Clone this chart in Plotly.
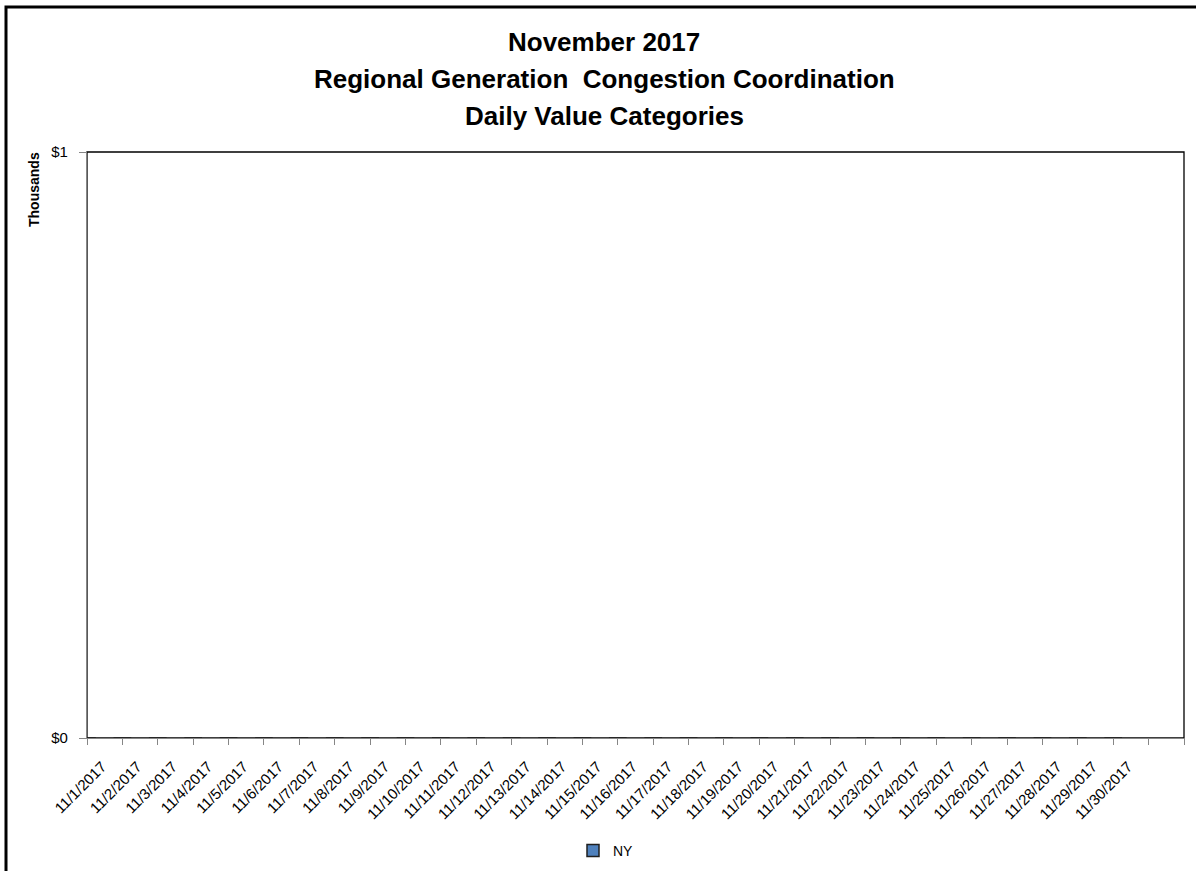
import plotly.graph_objects as go

# data: every day of November 2017, no NY values shown
dates = ["2017-11-%02d" % d for d in range(1, 31)]
date_labels = ["11/%d/2017" % d for d in range(1, 31)]
ny_values = [0] * 30
series_name = "NY"

title_lines = ["November 2017",
               "Regional Generation  Congestion Coordination",
               "Daily Value Categories"]
y_ticks = [0, 1]
y_labels = ["$0", "$1"]

# two extra unlabeled ticks after the last day, like the original
extra_ticks = ["2017-12-01", "2017-12-02"]

W, H = 1196, 871
L, R, T, B = 87, W - 1184, 152, H - 738
pw, ph = W - L - R, H - T - B

font = "Liberation Sans"

fig = go.Figure()
fig.add_trace(go.Bar(
    x=dates,
    y=ny_values,
    name=series_name,
    marker=dict(color="#4F81BD", line=dict(color="#1F1F1F", width=1.5)),
    showlegend=True,
))

for i, line in enumerate(title_lines):
    fig.add_annotation(
        text="<b>%s</b>" % line, xref="paper", yref="paper",
        x=(604 - L) / pw, y=(738 - (42 + 37 * i)) / ph,
        showarrow=False, xanchor="center", yanchor="middle",
        font=dict(family=font, size=26, color="black"),
    )

fig.add_annotation(
    text="<b>Thousands</b>", xref="paper", yref="paper",
    x=(34 - L) / pw, y=(738 - 190) / ph, textangle=-90,
    showarrow=False, xanchor="center", yanchor="middle",
    font=dict(family=font, size=14, color="black"),
)

# outer frame and plot frame
fig.add_shape(type="rect", xref="paper", yref="paper",
              x0=(6 - L) / pw, x1=(W + 40 - L) / pw,
              y0=(738 - H - 40) / ph, y1=(738 - 7) / ph,
              line=dict(color="black", width=3), layer="below")
fig.add_shape(type="rect", xref="paper", yref="paper",
              x0=0, x1=1, y0=0, y1=1,
              line=dict(color="black", width=1.3), layer="below")

fig.update_xaxes(
    type="date",
    range=["2017-11-01", "2017-12-02"],
    tickmode="array",
    tickvals=dates + extra_ticks,
    ticktext=date_labels + ["", ""],
    tickangle=-45,
    ticks="outside", ticklen=6, tickcolor="#868686",
    showline=True, linecolor="#868686", linewidth=1.3,
    showgrid=False, zeroline=False,
    ticklabelshift=15, ticklabelstandoff=7,
    tickfont=dict(family=font, size=15, color="black"),
)
fig.update_yaxes(
    range=[0, 1],
    tickmode="array", tickvals=y_ticks, ticktext=y_labels,
    ticks="outside", ticklen=7, tickcolor="#868686",
    showline=True, linecolor="#868686", linewidth=1.3,
    showgrid=False, zeroline=False,
    ticklabelstandoff=8,
    tickfont=dict(family=font, size=15, color="black"),
)

fig.update_layout(
    width=W, height=H,
    margin=dict(l=L, r=R, t=T, b=B, pad=0),
    paper_bgcolor="white", plot_bgcolor="white",
    showlegend=True,
    legend=dict(orientation="h", xref="container", yref="container",
                x=606 / W, xanchor="center",
                y=(H - 851) / H, yanchor="middle",
                font=dict(family=font, size=14, color="black"),
                itemwidth=30),
    bargap=0.5,
)

# the page has a default 8px body margin; drop it so the figure fills the window
fig.write_html("out.html", config={"displayModeBar": False},
               post_script="document.body.style.margin='0px';")
